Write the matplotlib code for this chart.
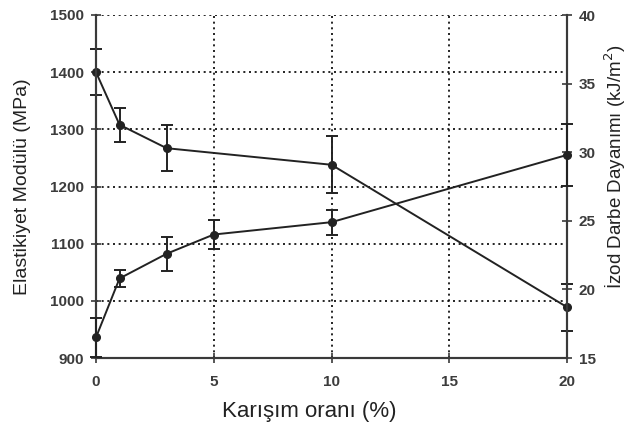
import matplotlib
matplotlib.use("Agg")
import matplotlib.pyplot as plt

plt.rcParams['font.family'] = ['Liberation Sans', 'DejaVu Sans']

# Data
x_modulus = [0, 1, 3, 10, 20]
modulus = [1400, 1308, 1267, 1238, 989]
modulus_err = [40, 30, 40, 50, 41]

x_impact = [0, 1, 3, 5, 10, 20]
impact = [16.5, 20.8, 22.6, 24.0, 24.9, 29.8]
impact_err = [1.4, 0.65, 1.25, 1.05, 0.9, 2.25]

x_ticks = [0, 5, 10, 15, 20]
left_ticks = [900, 1000, 1100, 1200, 1300, 1400, 1500]
right_ticks = [15, 20, 25, 30, 35, 40]

fig = plt.figure(figsize=(6.29, 4.32), dpi=100)
ax = fig.add_axes([96/629, 1-358/432, (567-96)/629, (358-15)/432])
ax2 = ax.twinx()

spine_c = '#3a3a3a'
tick_c = '#3c3c3c'

c1 = ax.errorbar(x_modulus, modulus, yerr=modulus_err, color='#222222', lw=1.4,
                 marker='o', ms=5.5, capsize=4, elinewidth=1.4, capthick=1.4, zorder=5)
c2 = ax2.errorbar(x_impact, impact, yerr=impact_err, color='#222222', lw=1.4,
                  marker='o', ms=5.5, capsize=4, elinewidth=1.4, capthick=1.4, zorder=5)
for cont in (c1, c2):
    for child in cont.get_children():
        child.set_clip_on(False)

ax.set_xlim(0, 20)
ax.set_ylim(900, 1500)
ax2.set_ylim(15, 40)
ax.set_xticks(x_ticks)
ax.set_yticks(left_ticks)
ax2.set_yticks(right_ticks)

ax.grid(True, color='black', linestyle=(0, (1.2, 2.2)), linewidth=1.2)
ax.set_axisbelow(True)

for a in (ax, ax2):
    a.spines['top'].set_visible(False)
    for s in ('left', 'bottom', 'right'):
        a.spines[s].set_color(spine_c)
        a.spines[s].set_linewidth(1.5)

ax.tick_params(axis='both', direction='inout', length=7, width=1.2, color=spine_c,
               labelsize=11, labelcolor=tick_c)
ax2.tick_params(axis='y', direction='inout', length=7, width=1.2, color=spine_c,
                labelsize=11, labelcolor=tick_c, pad=5)
ax.tick_params(axis='x', pad=9)
ax.tick_params(axis='y', pad=5)
for lab in ax.get_xticklabels() + ax.get_yticklabels() + ax2.get_yticklabels():
    lab.set_fontweight('bold')

ax.set_xlabel('Karışım oranı (%)', fontsize=16, color='#222222', labelpad=9)
ax.xaxis.set_label_coords((309 - 96) / 471, -0.125)
ax.set_ylabel('Elastikiyet Modülü (MPa)', fontsize=14, color='#222222', labelpad=14)
ax2.set_ylabel('İzod Darbe Dayanımı (kJ/m$^2$)', fontsize=13.5, color='#222222')
ax2.yaxis.set_label_coords((603 - 96) / 471, (358 - 167) / 343)

fig.savefig('out.png', dpi=100)
